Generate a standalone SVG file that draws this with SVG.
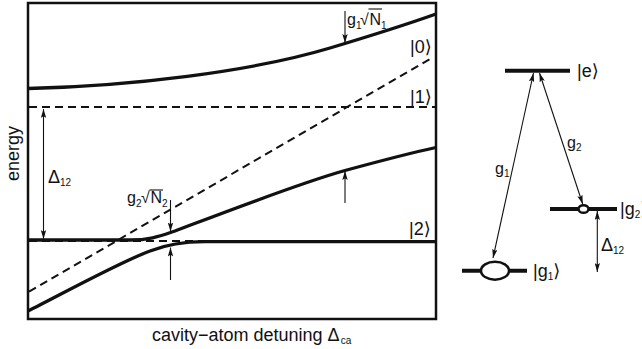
<svg xmlns="http://www.w3.org/2000/svg" width="642" height="349" viewBox="0 0 642 349">
<style>
text{font-family:"Liberation Sans",Arial,"DejaVu Sans",sans-serif;fill:#111}
.lab{font-size:16px}
.st{font-size:18px}
.sub{font-size:10px}
.curve{fill:none;stroke:#111;stroke-width:3.3;stroke-linecap:butt}
.dash{fill:none;stroke:#111;stroke-width:2;stroke-dasharray:8 5}
.arr{fill:none;stroke:#111;stroke-width:1.1;marker-end:url(#ah)}
.darr{fill:none;stroke:#111;stroke-width:1.1;marker-start:url(#ah);marker-end:url(#ah)}
.lvl{stroke:#111;stroke-width:4}
.orb{fill:#fff;stroke:#111;stroke-width:2.5}
.vinc{stroke:#111;stroke-width:1.1}
</style>
<defs>
<marker id="ah" viewBox="0 0 10 6" refX="10" refY="3" markerWidth="9" markerHeight="5.4" markerUnits="userSpaceOnUse" orient="auto-start-reverse">
<path d="M0,0 L10,3 L0,6 L2,3 z" fill="#111"/>
</marker>
</defs>
<rect width="642" height="349" fill="#fff"/>
<g id="frame">
<rect x="28" y="3" width="408" height="316" fill="none" stroke="#111" stroke-width="2.5"/>
</g>
<g id="bare-states">
<line class="dash" x1="29" y1="107" x2="435" y2="107"/>
<line class="dash" x1="29" y1="241" x2="435" y2="241"/>
<line class="dash" x1="29" y1="291.7" x2="430" y2="59"/>
</g>
<g id="dressed-states">
<path class="curve" d="M28,88.5 C130,86 250,72 330,48 C370,36 405,25 436,14"/>
<path class="curve" d="M28,240 L130,240 C150,240 160,236 175,231 C220,214 300,183 345,170.5 C380,161 410,153 436,147.5"/>
<path class="curve" d="M28,311 C60,295 120,262 150,251 C165,245 180,241.6 205,241.6 L436,241.6"/>
</g>
<g id="plot-labels">
<text class="st" x="410" y="53">|0⟩</text>
<text class="st" x="410" y="103">|1⟩</text>
<text class="st" x="409" y="235">|2⟩</text>
<text class="lab" x="347" y="25">g<tspan class="sub" dy="4">1</tspan><tspan dy="-4" x="360">√</tspan><tspan x="369.5">N</tspan><tspan class="sub" dy="4">1</tspan></text>
<line class="vinc" x1="368.5" y1="9" x2="382" y2="9"/>
<text class="lab" x="127" y="203">g<tspan class="sub" dy="4">2</tspan><tspan dy="-4" x="141">√</tspan><tspan x="150.5">N</tspan><tspan class="sub" dy="4">2</tspan></text>
<line class="vinc" x1="149.5" y1="190" x2="163" y2="190"/>
<text class="st" x="48" y="183">Δ<tspan class="sub" dy="3">12</tspan></text>
<text class="st" transform="translate(18.5,153.5) rotate(-90)" text-anchor="middle">energy</text>
<text class="st" x="152" y="341">cavity−atom detuning Δ<tspan class="sub" dy="3" dx="1">ca</tspan></text>
</g>
<g id="level-e">
<line class="lvl" x1="505" y1="70.7" x2="570" y2="70.7"/>
<text class="st" x="577" y="77">|e⟩</text>
</g>
<g id="level-g2">
<line class="lvl" x1="550" y1="209" x2="617" y2="209" stroke-width="3.5"/>
<ellipse class="orb" cx="583.5" cy="209" rx="5" ry="3.8" stroke-width="2"/>
<text class="st" x="620" y="215">|g<tspan class="sub" dy="3">2</tspan><tspan dy="-3">⟩</tspan></text>
</g>
<g id="level-g1">
<line class="lvl" x1="462" y1="270.7" x2="527" y2="270.7" stroke-width="3.5"/>
<ellipse class="orb" cx="495" cy="270.7" rx="14" ry="9"/>
<text class="st" x="533" y="277">|g<tspan class="sub" dy="3">1</tspan><tspan dy="-3">⟩</tspan></text>
</g>
<g id="connectors">
<line class="arr" x1="345" y1="11" x2="345" y2="43"/>
<line class="arr" x1="345" y1="203" x2="345" y2="171"/>
<line class="arr" x1="170.5" y1="200" x2="170.5" y2="231.5"/>
<line class="arr" x1="170.5" y1="280" x2="170.5" y2="247.5"/>
<line class="darr" x1="43.5" y1="109" x2="43.5" y2="239"/>
<line class="darr" x1="597.3" y1="211" x2="597.3" y2="272"/>
<line class="darr" x1="533.5" y1="73" x2="493" y2="258"/>
<line class="darr" x1="539.5" y1="73" x2="582.7" y2="204"/>
</g>
<g id="transition-labels">
<text class="lab" x="567" y="148">g<tspan class="sub" dy="3">2</tspan></text>
<text class="lab" x="495" y="174">g<tspan class="sub" dy="3">1</tspan></text>
<text class="st" x="601" y="251">Δ<tspan class="sub" dy="3">12</tspan></text>
</g>
</svg>
